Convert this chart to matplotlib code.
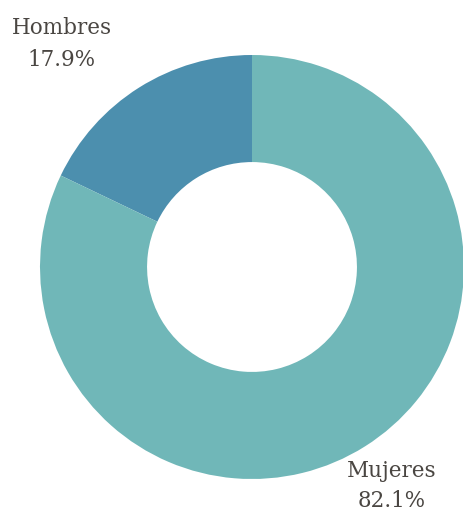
import matplotlib
matplotlib.use("Agg")
import matplotlib.pyplot as plt

categories = ["Hombres", "Mujeres"]
values = [17.9, 82.1]
colors = ["#4c8fae", "#70b7b8"]

W, H = 464, 514
fig = plt.figure(figsize=(W / 100, H / 100), dpi=100)
ax = fig.add_axes([0, 0, 1, 1])
ax.set_xlim(0, W)
ax.set_ylim(0, H)
ax.set_aspect("equal")
ax.axis("off")

R = 212
ax.pie(values, colors=colors, startangle=90, counterclock=True,
       center=(252, 247), radius=R, frame=True,
       wedgeprops=dict(width=R * 0.505, edgecolor="none"))
ax.set_xlim(0, W)
ax.set_ylim(0, H)
ax.axis("off")

txt = dict(ha="center", va="center", fontsize=15.5, color="#4a4642",
           family=["DejaVu Serif"])
label_pos = [(62, 486, 454), (392, 43, 13)]
for (name, v), (x, y1, y2) in zip(zip(categories, values), label_pos):
    ax.text(x, y1, name, **txt)
    ax.text(x, y2, f"{v:.1f}%", **txt)

fig.savefig("out.png", dpi=100)
